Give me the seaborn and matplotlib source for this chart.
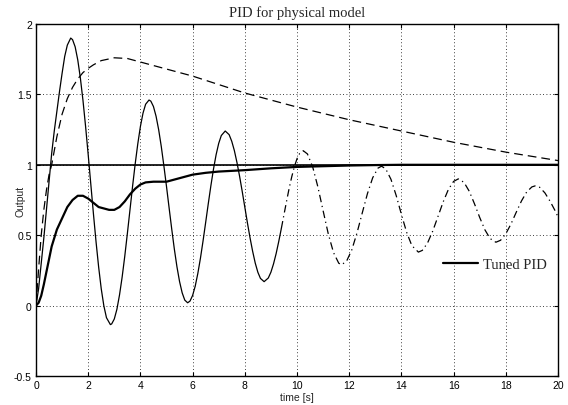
import numpy as np
import pandas as pd
import matplotlib
matplotlib.use("Agg")
import matplotlib.pyplot as plt
import seaborn as sns

# values
# untuned PID, oscillating (solid part)
osc_t = [0.0, 0.1, 0.2, 0.3, 0.4, 0.5, 0.6, 0.7, 0.8, 0.9, 1.0, 1.1, 1.2, 1.33,
         1.4, 1.5, 1.6, 1.7, 1.8, 1.9, 2.0, 2.1, 2.2, 2.3, 2.4, 2.5, 2.6, 2.7, 2.85,
         2.9, 3.0, 3.1, 3.2, 3.3, 3.4, 3.5, 3.6, 3.7, 3.8, 3.9, 4.0, 4.1, 4.2, 4.33,
         4.4, 4.5, 4.6, 4.7, 4.8, 4.9, 5.0, 5.1, 5.2, 5.3, 5.4, 5.5, 5.6, 5.7, 5.81,
         5.9, 6.0, 6.1, 6.2, 6.3, 6.4, 6.5, 6.6, 6.7, 6.8, 6.9, 7.0, 7.1, 7.25,
         7.4, 7.5, 7.6, 7.7, 7.8, 7.9, 8.0, 8.1, 8.2, 8.3, 8.4, 8.5, 8.6, 8.74,
         8.9, 9.0, 9.1, 9.2, 9.3, 9.4]
osc_y = [0.0, 0.12, 0.30, 0.48, 0.68, 0.88, 1.08, 1.24, 1.38, 1.52, 1.65, 1.77, 1.85, 1.90,
         1.889, 1.838, 1.745, 1.616, 1.457, 1.272, 1.071, 0.862, 0.653, 0.454, 0.274, 0.119, -0.002, -0.086, -0.135,
         -0.130, -0.095, -0.026, 0.076, 0.202, 0.349, 0.511, 0.679, 0.847, 1.006, 1.149, 1.272, 1.367, 1.43, 1.46,
         1.452, 1.414, 1.345, 1.249, 1.13, 0.992, 0.846, 0.694, 0.544, 0.402, 0.276, 0.171, 0.091, 0.039, 0.02,
         0.032, 0.072, 0.138, 0.228, 0.336, 0.459, 0.59, 0.723, 0.851, 0.969, 1.071, 1.152, 1.208, 1.24,
         1.214, 1.167, 1.101, 1.016, 0.919, 0.812, 0.70, 0.588, 0.482, 0.386, 0.302, 0.237, 0.193, 0.17,
         0.196, 0.237, 0.296, 0.369, 0.455, 0.548]

# same response continued (dash-dot part)
tail_t = [9.4, 9.5, 9.6, 9.7, 9.8, 9.9, 10.0, 10.1, 10.24,
          10.4, 10.6, 10.8, 11.0, 11.2, 11.4, 11.6, 11.71,
          11.9, 12.1, 12.3, 12.5, 12.7, 12.9, 13.1, 13.24,
          13.4, 13.6, 13.8, 14.0, 14.2, 14.4, 14.65,
          14.8, 15.0, 15.2, 15.4, 15.6, 15.8, 16.0, 16.18,
          16.4, 16.6, 16.8, 17.0, 17.2, 17.4, 17.62,
          17.8, 18.0, 18.2, 18.4, 18.6, 18.8, 19.0, 19.12,
          19.3, 19.5, 19.7, 19.9, 20.0]
tail_y = [0.548, 0.645, 0.741, 0.834, 0.916, 0.987, 1.043, 1.08, 1.10,
          1.077, 0.986, 0.843, 0.674, 0.508, 0.376, 0.301, 0.29,
          0.316, 0.396, 0.517, 0.658, 0.796, 0.908, 0.976, 0.99,
          0.971, 0.897, 0.782, 0.648, 0.521, 0.426, 0.38,
          0.392, 0.444, 0.529, 0.632, 0.736, 0.825, 0.882, 0.90,
          0.875, 0.812, 0.723, 0.626, 0.538, 0.476, 0.45,
          0.464, 0.51, 0.58, 0.663, 0.743, 0.807, 0.843, 0.85,
          0.84, 0.80, 0.74, 0.67, 0.63]

# slow, overshooting response (dashed)
slow_t = [0.0, 0.1, 0.2, 0.3, 0.4, 0.5, 0.6, 0.8, 1.0, 1.2, 1.4, 1.6, 1.8, 2.0, 2.2, 2.5,
          3.0, 3.5, 4.0, 5.0, 6.0, 7.0, 8.0, 9.0, 10.0, 11.0, 12.0, 13.0, 14.0, 15.0,
          16.0, 17.0, 18.0, 19.0, 20.0]
slow_y = [0.0, 0.26, 0.50, 0.68, 0.82, 0.93, 1.00, 1.20, 1.36, 1.47, 1.55, 1.61, 1.655, 1.685, 1.71, 1.74,
          1.76, 1.755, 1.73, 1.68, 1.63, 1.57, 1.51, 1.46, 1.41, 1.365, 1.32, 1.28, 1.24, 1.20,
          1.16, 1.125, 1.09, 1.06, 1.03]

# tuned PID (thick)
tuned_t = [0.0, 0.1, 0.2, 0.3, 0.4, 0.6, 0.8, 1.0, 1.2, 1.4, 1.6, 1.8, 2.0, 2.2, 2.4, 2.6, 2.8, 3.0,
           3.2, 3.4, 3.6, 3.8, 4.0, 4.2, 4.5, 5.0, 5.5, 6.0, 6.5, 7.0, 8.0, 9.0, 10.0,
           11.0, 12.0, 13.0, 14.0, 20.0]
tuned_y = [0.0, 0.02, 0.07, 0.15, 0.24, 0.42, 0.54, 0.62, 0.70, 0.75, 0.78, 0.78, 0.76, 0.73, 0.70, 0.69, 0.68, 0.68,
           0.70, 0.74, 0.79, 0.83, 0.86, 0.875, 0.88, 0.88, 0.905, 0.93, 0.943, 0.952, 0.962, 0.975, 0.985,
           0.99, 0.995, 0.998, 1.0, 1.0]

# set point
ref_t = [0.0, 20.0]
ref_y = [1.0, 1.0]

x_ticks = [0, 2, 4, 6, 8, 10, 12, 14, 16, 18, 20]
y_ticks = [-0.5, 0, 0.5, 1, 1.5, 2]
y_tick_labels = ["-0.5", "0", "0.5", "1", "1.5", "2"]

sns.set_style("ticks")
plt.rcParams["font.family"] = ["Liberation Sans", "DejaVu Sans"]
plt.rcParams["xtick.direction"] = "in"
plt.rcParams["ytick.direction"] = "in"

fig = plt.figure(figsize=(5.68, 4.06), dpi=100)
ax = fig.add_axes([36 / 568, 29 / 406, 522 / 568, 352 / 406])

sns.lineplot(x=osc_t, y=osc_y, ax=ax, color="black", linewidth=0.9, sort=False, estimator=None)
sns.lineplot(x=tail_t, y=tail_y, ax=ax, color="black", linewidth=0.9, sort=False, estimator=None,
             linestyle=(0, (6, 3, 1, 3)))
sns.lineplot(x=slow_t, y=slow_y, ax=ax, color="black", linewidth=0.9, sort=False, estimator=None,
             linestyle=(0, (7, 4)))
sns.lineplot(x=ref_t, y=ref_y, ax=ax, color="black", linewidth=1.2, sort=False, estimator=None)
sns.lineplot(x=tuned_t, y=tuned_y, ax=ax, color="black", linewidth=1.6, sort=False, estimator=None,
             label="Tuned PID")

ax.set_xlim(0, 20)
ax.set_ylim(-0.5, 2)
ax.set_xticks(x_ticks)
ax.set_yticks(y_ticks)
ax.set_yticklabels(y_tick_labels)
ax.tick_params(axis="both", which="both", direction="in", length=3, width=0.8,
               top=True, right=True, labelsize=7.5, colors="black", pad=3)
ax.grid(True, color="black", linestyle=(0, (1, 3)), linewidth=0.6)
for s in ax.spines.values():
    s.set_color("black")
    s.set_linewidth(1.0)

ax.set_title("PID for physical model", family=["Liberation Serif", "DejaVu Serif"],
             fontsize=10.5, pad=6)
ax.set_xlabel("time [s]", fontsize=7.5)
ax.set_ylabel("Output", fontsize=7.5)
ax.xaxis.set_label_coords(0.5, -0.045)
ax.yaxis.set_label_coords(-0.021, 0.5)

handles, labels = ax.get_legend_handles_labels()
ax.legend(handles, labels, loc="center left", bbox_to_anchor=(0.78, 0.318), frameon=False,
          handlelength=2.4, handletextpad=0.3, borderpad=0, borderaxespad=0,
          prop={"family": ["Liberation Serif", "DejaVu Serif"], "size": 10.5})

fig.savefig("out.png", dpi=100, facecolor="white")
